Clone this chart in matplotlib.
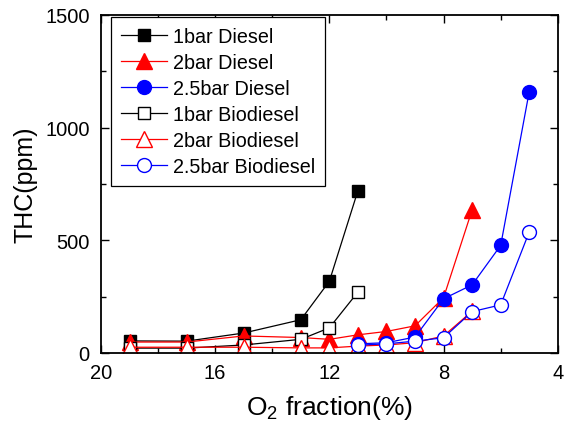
import matplotlib
matplotlib.use("Agg")
import matplotlib.pyplot as plt
from matplotlib.ticker import MultipleLocator

plt.rcParams['font.family'] = ['Liberation Sans', 'DejaVu Sans']
plt.rcParams['mathtext.fontset'] = 'custom'
plt.rcParams['mathtext.rm'] = 'Liberation Sans'

# O2 fraction (%) for each boost pressure
o2_1bar = [19, 17, 15, 13, 12, 11]
o2_2bar = [19, 17, 15, 13, 12, 11, 10, 9, 8, 7]
o2_25bar = [11, 10, 9, 8, 7, 6, 5]

# THC (ppm)
thc_1bar_diesel = [53, 52, 88, 147, 318, 720]
thc_2bar_diesel = [48, 48, 75, 68, 60, 80, 95, 120, 245, 635]
thc_25bar_diesel = [40, 45, 70, 240, 302, 477, 1160]
thc_1bar_bio = [21, 21, 35, 60, 111, 270]
thc_2bar_bio = [25, 25, 25, 22, 22, 30, 35, 45, 75, 185]
thc_25bar_bio = [34, 40, 52, 67, 183, 213, 537]

fig = plt.figure(figsize=(5.64, 4.31), dpi=100)
ax = fig.add_axes([0.179, 0.179, 0.810, 0.784])

lw = 0.9
ax.plot(o2_1bar, thc_1bar_diesel, '-s', color='black', lw=lw, ms=8.6, label='1bar Diesel')
ax.plot(o2_2bar, thc_2bar_diesel, '-^', color='red', lw=lw, ms=11, label='2bar Diesel')
ax.plot(o2_25bar, thc_25bar_diesel, '-o', color='blue', lw=lw, ms=10, label='2.5bar Diesel')
ax.plot(o2_1bar, thc_1bar_bio, '-s', color='black', lw=lw, ms=9, mfc='white', mew=1.0, label='1bar Biodiesel')
ax.plot(o2_2bar, thc_2bar_bio, '-^', color='red', lw=lw, ms=11, mfc='white', mew=1.0, label='2bar Biodiesel')
ax.plot(o2_25bar, thc_25bar_bio, '-o', color='blue', lw=lw, ms=10, mfc='white', mew=1.0, label='2.5bar Biodiesel')

ax.set_xlim(20, 4)
ax.set_ylim(0, 1500)
ax.xaxis.set_major_locator(MultipleLocator(4))
ax.xaxis.set_minor_locator(MultipleLocator(2))
ax.yaxis.set_major_locator(MultipleLocator(500))
ax.yaxis.set_minor_locator(MultipleLocator(250))
ax.tick_params(which='both', direction='in', top=True, right=True, width=1.0, labelsize=14.5)
ax.tick_params(which='major', length=6)
ax.tick_params(which='minor', length=3.5)
ax.tick_params(axis='x', pad=7)
ax.tick_params(axis='y', pad=8)
for s in ax.spines.values():
    s.set_linewidth(1.3)

ax.set_xlabel('O$_2$ fraction(%)', fontsize=19, labelpad=8)
ax.set_ylabel('THC(ppm)', fontsize=18, labelpad=6)

leg = ax.legend(loc='upper left', bbox_to_anchor=(0.022, 0.994), borderaxespad=0,
                fontsize=14.2, handlelength=2.35, handletextpad=0.3, labelspacing=0.36,
                fancybox=False, edgecolor='black', framealpha=1, borderpad=0.5)
leg.get_frame().set_linewidth(0.9)

fig.savefig('out.png', dpi=100)
